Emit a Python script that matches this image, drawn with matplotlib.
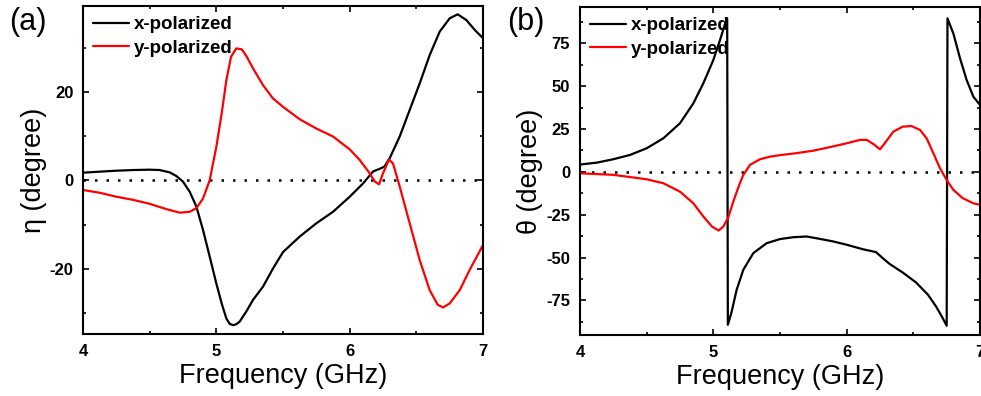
import numpy as np
import matplotlib
matplotlib.use('Agg')
import matplotlib.pyplot as plt
from matplotlib.ticker import MultipleLocator

plt.rcParams['font.family'] = ['Liberation Sans', 'DejaVu Sans']
plt.rcParams['axes.unicode_minus'] = False
plt.rcParams['lines.solid_joinstyle'] = 'round'
plt.rcParams['lines.solid_capstyle'] = 'round'

# (a) ellipticity eta
fa_x = [4.0, 4.125, 4.25, 4.375, 4.5, 4.575, 4.65, 4.7, 4.75, 4.8, 4.85, 4.9, 4.95,
        5.0, 5.04, 5.075, 5.1, 5.125, 5.15, 5.175, 5.225, 5.275, 5.35, 5.425, 5.5, 5.625, 5.75,
        5.875, 6.0, 6.1, 6.175, 6.225, 6.26, 6.3, 6.375, 6.45, 6.525, 6.6, 6.675,
        6.75, 6.81, 6.875, 6.94, 7.0]
eta_x = [1.73, 1.96, 2.18, 2.33, 2.41, 2.33, 1.8, 0.98, -0.3, -2.56, -5.9, -11.2, -17.2,
         -23.3, -27.8, -31.2, -32.4, -32.7, -32.5, -31.9, -29.6, -27.0, -24.0, -19.9, -16.2, -12.7, -9.7,
         -7.1, -3.7, -0.7, 2.0, 2.6, 3.1, 5.0, 9.9, 15.9, 21.9, 28.3, 33.6,
         36.6, 37.5, 36.2, 33.9, 32.1]
fa_y = [4.0, 4.125, 4.25, 4.375, 4.5, 4.625, 4.725, 4.8, 4.85, 4.9, 4.95, 5.0, 5.04,
        5.075, 5.11, 5.15, 5.19, 5.225, 5.275, 5.35, 5.425, 5.5, 5.625, 5.75, 5.875,
        6.0, 6.075, 6.14, 6.19, 6.22, 6.25, 6.295, 6.325, 6.375, 6.45, 6.525, 6.6,
        6.66, 6.7, 6.75, 6.825, 6.9, 7.0]
eta_y = [-2.18, -2.8, -3.7, -4.4, -5.3, -6.5, -7.3, -7.1, -6.3, -4.1, 0.0, 7.6, 15.1,
         22.6, 27.9, 29.8, 29.6, 28.1, 25.3, 21.5, 18.5, 16.6, 13.8, 11.7, 9.9,
         7.0, 4.6, 2.0, -0.3, -0.9, 1.6, 4.7, 3.8, -1.4, -9.7, -18.0, -24.8,
         -28.1, -28.7, -27.8, -24.8, -20.2, -14.6]

# (b) rotation angle theta
fb_x = [4.0, 4.125, 4.25, 4.375, 4.5, 4.625, 4.75, 4.85, 4.925, 5.0, 5.05, 5.085, 5.104,
        5.109, 5.135, 5.175, 5.225, 5.3, 5.4, 5.5, 5.6, 5.7, 5.8, 5.9, 6.0, 6.12, 6.22,
        6.27, 6.32, 6.42, 6.52, 6.61, 6.67, 6.72, 6.75, 6.756, 6.8, 6.85, 6.9, 6.95, 7.0]
th_x = [4.3, 5.4, 7.4, 9.9, 13.8, 19.6, 28.4, 40.0, 51.7, 65.3, 76.9, 85.7, 89.6,
        -89.2, -82.4, -68.8, -57.1, -47.4, -41.6, -39.2, -38.1, -37.7, -39.1, -40.6, -42.5,
        -45.1, -46.8, -50.3, -53.6, -58.7, -64.5, -71.7, -78.5, -85.3, -89.8, 89.6,
        80.8, 66.3, 53.6, 43.9, 39.1]
fb_y = [4.0, 4.25, 4.5, 4.625, 4.75, 4.85, 4.925, 4.99, 5.04, 5.075, 5.11, 5.15, 5.19,
        5.225, 5.275, 5.35, 5.425, 5.5, 5.62, 5.75, 5.87, 6.0, 6.1, 6.15, 6.2, 6.25,
        6.285, 6.35, 6.42, 6.485, 6.55, 6.6, 6.65, 6.7, 6.75, 6.8, 6.87, 6.95, 7.0]
th_y = [-0.8, -1.7, -4.3, -6.6, -11.5, -18.3, -26.0, -31.9, -34.2, -31.9, -27.0, -17.3, -8.5,
        -1.7, 4.1, 7.4, 8.9, 9.8, 10.9, 12.4, 14.4, 16.7, 18.7, 18.7, 16.3, 13.2,
        16.7, 23.5, 26.4, 26.8, 24.5, 19.6, 10.9, 2.1, -4.7, -10.5, -15.3, -18.3, -19.2]

fig = plt.figure(figsize=(9.81, 3.96), dpi=100)
ax1 = fig.add_axes([0.0846, 0.1566, 0.4078, 0.8285])
ax2 = fig.add_axes([0.5912, 0.1540, 0.4078, 0.8285])

def style(ax, ylab, major, minor, ylim):
    ax.set_xlim(4, 7)
    ax.set_ylim(*ylim)
    ax.xaxis.set_major_locator(MultipleLocator(1))
    ax.xaxis.set_minor_locator(MultipleLocator(0.5))
    ax.yaxis.set_major_locator(MultipleLocator(major))
    ax.yaxis.set_minor_locator(MultipleLocator(minor))
    ax.tick_params(which='both', direction='in', top=True, right=True, width=1.2)
    ax.tick_params(which='major', length=4, labelsize=12, pad=7)
    ax.tick_params(which='minor', length=2.5)
    for lab in ax.get_xticklabels() + ax.get_yticklabels():
        lab.set_fontweight('bold')
    for sp in ax.spines.values():
        sp.set_linewidth(1.5)
    ax.axhline(0, color='black', lw=1.8, ls=(0, (1, 3.6)), zorder=1)
    ax.set_xlabel('Frequency (GHz)', fontsize=19.5, labelpad=3)
    ax.set_ylabel(ylab, fontsize=19.5, labelpad=2)
    ax.legend(loc='upper left', bbox_to_anchor=(0.0, 1.0), frameon=False,
              borderaxespad=0.35, borderpad=0.2, handlelength=1.9,
              handletextpad=0.25, labelspacing=0.35,
              prop={'weight': 'bold', 'size': 13.5})

ax1.plot(fa_x, eta_x, color='black', lw=1.6, label='x-polarized')
ax1.plot(fa_y, eta_y, color='red', lw=1.6, label='y-polarized')
style(ax1, 'η (degree)', 20, 10, (-34.7, 39.4))

ax2.plot(fb_x, th_x, color='black', lw=1.6, label='x-polarized')
ax2.plot(fb_y, th_y, color='red', lw=1.6, label='y-polarized')
style(ax2, 'θ (degree)', 25, 12.5, (-95.2, 96.3))

fig.text(0.009, 0.945, '(a)', fontsize=22, va='center', ha='left')
fig.text(0.517, 0.945, '(b)', fontsize=22, va='center', ha='left')

fig.savefig('out.png', dpi=100)
